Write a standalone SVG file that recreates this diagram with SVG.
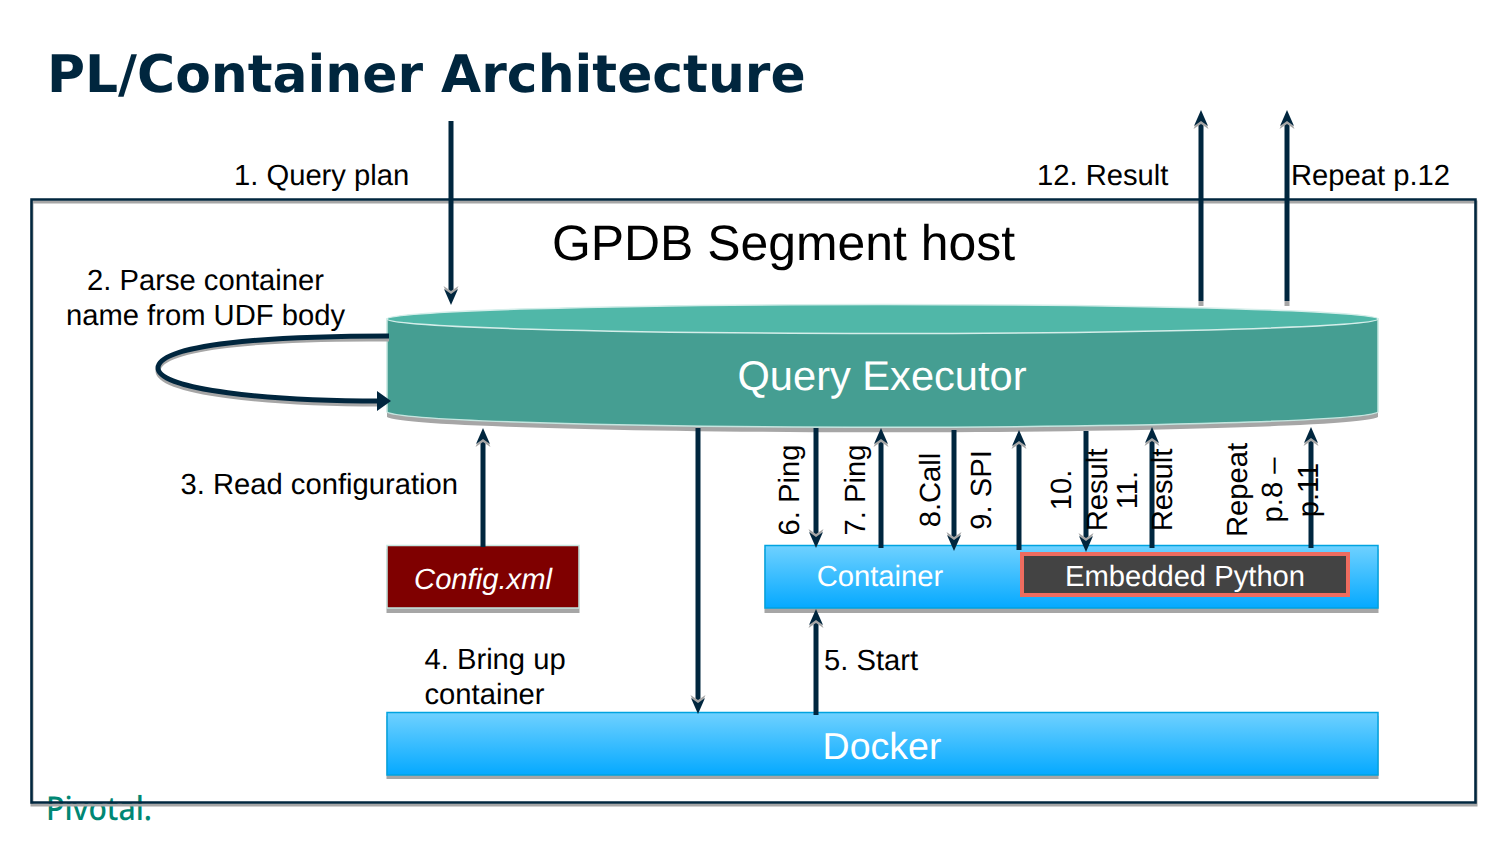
<svg xmlns="http://www.w3.org/2000/svg" width="1500" height="843" viewBox="0 0 1500 843">
<style>
text{font-family:"Liberation Sans",Arial,sans-serif;fill:#000;text-rendering:geometricPrecision}
.lb{font-size:29.200px}
.rot{font-size:29.200px;text-anchor:middle}
.w{fill:#fff;text-anchor:middle}
.conn{stroke:#00263e;stroke-width:5;fill:none}
.sh{stroke:#a6a6a6;stroke-width:5;fill:none}
.up{marker-end:url(#head)}
</style>
<defs>
<linearGradient id="blue" x1="0" y1="0" x2="0" y2="1"><stop offset="0" stop-color="#6fd1ff"/><stop offset="1" stop-color="#05a9ff"/></linearGradient>
<marker id="head" markerUnits="userSpaceOnUse" markerWidth="24" markerHeight="24" refX="9" refY="10" orient="auto">
<path d="M1 2.500L6 10L1 17.500L18 10Z" fill="#a6a6a6" transform="translate(-1 0)"/>
<path d="M3 3L8 10L3 17L19 10Z" fill="#00263e"/>
</marker>
<marker id="head2" markerUnits="userSpaceOnUse" markerWidth="20" markerHeight="26" refX="4" refY="13" orient="auto">
<path d="M1 3L1 23L15 13Z" fill="#00263e"/>
</marker>
</defs>
<rect width="1500" height="843" fill="#fff"/>
<text x="47" y="91.500" style="font-family:'DejaVu Sans',sans-serif;font-weight:700;font-size:51.900px;fill:#00263e">PL/Container Architecture</text>
<g id="pivotal-logo"><text x="46" y="820" textLength="106" lengthAdjust="spacingAndGlyphs" style="font-family:'Noto Sans',sans-serif;font-weight:500;font-size:33px;fill:#008774">Pivotal.</text></g>
<g id="host">
<rect x="32" y="202" width="1444" height="603" fill="none" stroke="#a6a6a6" stroke-width="3"/>
<rect x="31.500" y="199.500" width="1444" height="603" fill="none" stroke="#00263e" stroke-width="2.500"/>
<text x="783.500" y="260" text-anchor="middle" style="font-size:49.900px">GPDB Segment host</text>
</g>
<g id="query-executor">
<path d="M387 319V413A496 16 0 0 0 1378 413V319Z" fill="#a6a6a6" transform="translate(0 4)"/>
<path d="M387 319V412A496 16 0 0 0 1378 412V319Z" fill="#459e92" stroke="#c5e6e0" stroke-width="1.500"/>
<ellipse cx="882.500" cy="319" rx="495.500" ry="14.500" fill="#50b7a8" stroke="#d5eeea" stroke-width="1.500"/>
<text class="w" x="882" y="390" style="font-size:41.600px">Query Executor</text>
</g>
<g id="config-xml">
<rect x="386.500" y="549" width="193" height="64" fill="#a6a6a6"/>
<rect x="387" y="545.500" width="192" height="62.500" fill="#7f0000" stroke="#c5e6e0" stroke-width="1.500"/>
<text class="w" x="483" y="589" style="font-size:29.200px;font-style:italic">Config.xml</text>
</g>
<g id="container">
<rect x="764.500" y="549" width="614" height="64" fill="#a6a6a6"/>
<rect x="765" y="545.500" width="613" height="62.500" fill="url(#blue)" stroke="#00a3e0" stroke-width="1.500"/>
<text class="w" x="880" y="586" style="font-size:29.200px">Container</text>
</g>
<g id="embedded-python">
<rect x="1022" y="554" width="326" height="41" fill="#434343" stroke="#ee6c5f" stroke-width="4"/>
<text class="w" x="1185" y="586" style="font-size:29.200px">Embedded Python</text>
</g>
<g id="docker">
<rect x="386.500" y="716" width="992" height="63" fill="#a6a6a6"/>
<rect x="387" y="712.500" width="991" height="62.500" fill="url(#blue)" stroke="#00a3e0" stroke-width="1.500"/>
<text class="w" x="882" y="759" style="font-size:37.500px">Docker</text>
</g>
<g id="connectors">
<path class="sh" d="M389 339C270 338 158 346 158 371C158 393 270 404 380 404"/>
<path class="conn" d="M389 336C270 336 158 344 158 368C158 390 270 401 380 401" marker-end="url(#head2)"/>
<line class="conn up" x1="451" y1="121" x2="451" y2="295"/>
<line class="conn up" x1="1201" y1="301" x2="1201" y2="120"/>
<rect x="1198.500" y="301" width="5" height="5" fill="#a6a6a6"/>
<line class="conn up" x1="1287" y1="301" x2="1287" y2="120"/>
<rect x="1284.500" y="301" width="5" height="5" fill="#a6a6a6"/>
<line class="conn up" x1="483" y1="547" x2="483" y2="438"/>
<line class="conn up" x1="698" y1="428" x2="698" y2="704"/>
<line class="conn up" x1="816" y1="428" x2="816" y2="538"/>
<line class="conn up" x1="881" y1="548" x2="881" y2="438"/>
<line class="conn up" x1="954" y1="430" x2="954" y2="541"/>
<line class="conn up" x1="1019" y1="550" x2="1019" y2="440"/>
<line class="conn up" x1="1086" y1="431" x2="1086" y2="542"/>
<line class="conn up" x1="1152" y1="548" x2="1152" y2="437"/>
<line class="conn up" x1="1311" y1="548" x2="1311" y2="437"/>
<line class="conn up" x1="816" y1="715" x2="816" y2="619"/>
</g>
<g id="labels">
<text class="lb" x="234" y="185">1. Query plan</text>
<text class="lb" x="1037" y="185">12. Result</text>
<text class="lb" x="1291" y="185">Repeat p.12</text>
<text class="lb" x="205.500" y="290" text-anchor="middle">2. Parse container</text>
<text class="lb" x="205.500" y="325" text-anchor="middle">name from UDF body</text>
<text class="lb" x="180.500" y="494">3. Read configuration</text>
<text class="lb" x="424.500" y="669">4. Bring up</text>
<text class="lb" x="424.500" y="704">container</text>
<text class="lb" x="824" y="670">5. Start</text>
<text class="rot" transform="translate(798.500 490) rotate(-90)">6. Ping</text>
<text class="rot" transform="translate(864.500 490) rotate(-90)">7. Ping</text>
<text class="rot" transform="translate(940 490) rotate(-90)">8.Call</text>
<text class="rot" transform="translate(991 490) rotate(-90)">9. SPI</text>
<text class="rot" transform="translate(1071 490) rotate(-90)">10.</text>
<text class="rot" transform="translate(1107 490) rotate(-90)">Result</text>
<text class="rot" transform="translate(1137 490) rotate(-90)">11.</text>
<text class="rot" transform="translate(1172 490) rotate(-90)">Result</text>
<text class="rot" transform="translate(1247 490) rotate(-90)">Repeat</text>
<text class="rot" transform="translate(1282 490) rotate(-90)">p.8 –</text>
<text class="rot" transform="translate(1318 490) rotate(-90)">p.11</text>
</g>
</svg>
